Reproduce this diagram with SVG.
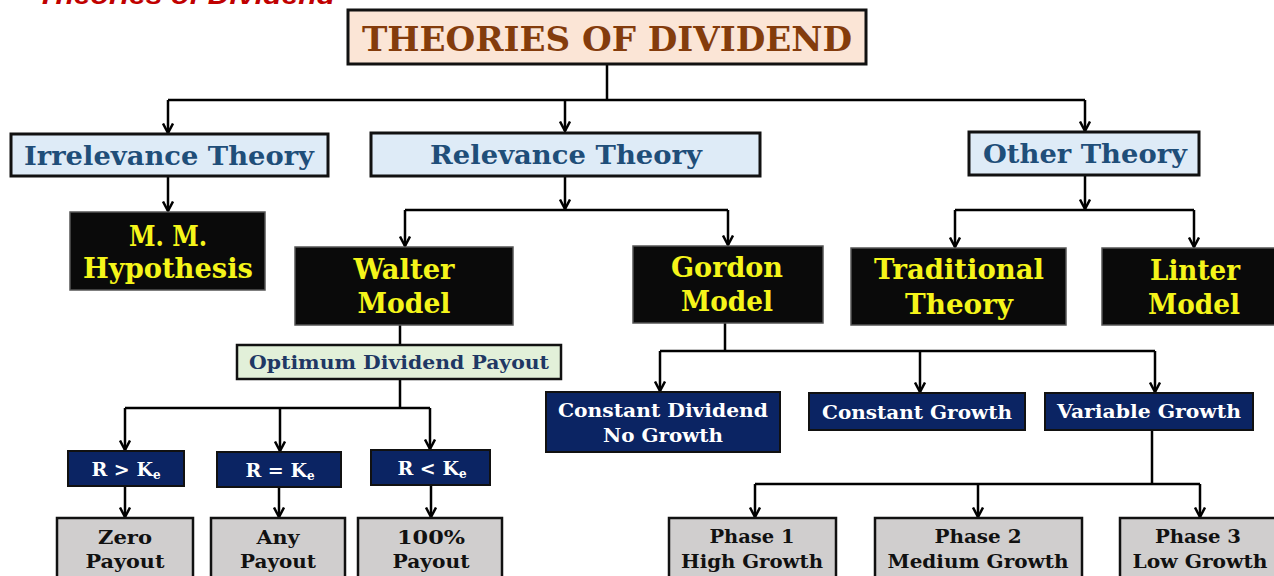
<svg xmlns="http://www.w3.org/2000/svg" width="1274" height="576" viewBox="0 0 1274 576">
<style>
.t{font-family:"DejaVu Serif","Liberation Serif",serif;font-weight:bold;text-anchor:middle;}
.lb rect{fill:#deebf7;stroke:#111;stroke-width:3;}
.lb text{fill:#1f4e79;font-size:26px;}
.bk rect{fill:#0a0a0a;stroke:#555;stroke-width:1.5;}
.bk text{fill:#f5f51a;font-size:27px;}
.nv rect{fill:#0b2463;stroke:#111;stroke-width:2;}
.nv text{fill:#fff;font-size:19px;}
.gy rect{fill:#d0cece;stroke:#111;stroke-width:2.5;}
.gy text{fill:#111;font-size:19px;}
.con path{fill:none;stroke:#000;stroke-width:2.5;}
</style>
<defs>
<marker id="arr" viewBox="0 0 12 12" refX="10.5" refY="6" markerWidth="12" markerHeight="12" markerUnits="userSpaceOnUse" orient="auto">
<path d="M1,1 L10.5,6 L1,11" fill="none" stroke="#000" stroke-width="2.5"/>
</marker>
</defs>
<rect width="1274" height="576" fill="#fff"/>
<text x="37" y="4" font-family="Liberation Sans, sans-serif" font-weight="bold" font-style="italic" font-size="25" fill="#c00000" textLength="298" lengthAdjust="spacingAndGlyphs">Theories of Dividend</text>

<g class="con">
<path d="M607,64 V100 M168,100 H1085"/>
<path d="M168,100 V133" marker-end="url(#arr)"/>
<path d="M565,100 V131" marker-end="url(#arr)"/>
<path d="M1085,100 V131" marker-end="url(#arr)"/>
<path d="M168,176 V211" marker-end="url(#arr)"/>
<path d="M565,176 V209" marker-end="url(#arr)"/>
<path d="M405,210 H728"/>
<path d="M405,210 V246" marker-end="url(#arr)"/>
<path d="M728,210 V245" marker-end="url(#arr)"/>
<path d="M1085,175 V209" marker-end="url(#arr)"/>
<path d="M955,210 H1194"/>
<path d="M955,210 V247" marker-end="url(#arr)"/>
<path d="M1194,210 V247" marker-end="url(#arr)"/>
<path d="M400,325 V345"/>
<path d="M400,379 V408 M125,408 H430"/>
<path d="M125,408 V450" marker-end="url(#arr)"/>
<path d="M280,408 V451" marker-end="url(#arr)"/>
<path d="M430,408 V449" marker-end="url(#arr)"/>
<path d="M125,486 V517" marker-end="url(#arr)"/>
<path d="M279,487 V517" marker-end="url(#arr)"/>
<path d="M431,485 V517" marker-end="url(#arr)"/>
<path d="M725,323 V351 M660,351 H1155"/>
<path d="M660,351 V391" marker-end="url(#arr)"/>
<path d="M920,351 V392" marker-end="url(#arr)"/>
<path d="M1155,351 V392" marker-end="url(#arr)"/>
<path d="M1152,430 V484 M755,484 H1200"/>
<path d="M755,484 V517" marker-end="url(#arr)"/>
<path d="M978,484 V517" marker-end="url(#arr)"/>
<path d="M1200,484 V517" marker-end="url(#arr)"/>
</g>

<g id="title">
<rect x="348" y="10" width="518" height="54" fill="#fbe5d6" stroke="#111" stroke-width="3"/>
<text class="t" x="607" y="51" font-size="34" fill="#843c0c" textLength="490" lengthAdjust="spacingAndGlyphs">THEORIES OF DIVIDEND</text>
</g>

<g id="irrelevance" class="lb">
<rect x="11" y="134" width="317" height="42"/>
<text class="t" x="169" y="165" textLength="290" lengthAdjust="spacingAndGlyphs">Irrelevance Theory</text>
</g>
<g id="relevance" class="lb">
<rect x="371" y="133" width="389" height="43"/>
<text class="t" x="566" y="164" textLength="272" lengthAdjust="spacingAndGlyphs">Relevance Theory</text>
</g>
<g id="other" class="lb">
<rect x="969" y="132" width="230" height="43"/>
<text class="t" x="1085" y="163" textLength="204" lengthAdjust="spacingAndGlyphs">Other Theory</text>
</g>

<g id="mm" class="bk">
<rect x="70" y="212" width="195" height="78"/>
<text class="t" x="168" y="246" textLength="78" lengthAdjust="spacingAndGlyphs">M. M.</text>
<text class="t" x="168" y="278" textLength="170" lengthAdjust="spacingAndGlyphs">Hypothesis</text>
</g>
<g id="walter" class="bk">
<rect x="295" y="247" width="218" height="78"/>
<text class="t" x="404" y="279" textLength="101" lengthAdjust="spacingAndGlyphs">Walter</text>
<text class="t" x="404" y="313" textLength="93" lengthAdjust="spacingAndGlyphs">Model</text>
</g>
<g id="gordon" class="bk">
<rect x="633" y="246" width="190" height="77"/>
<text class="t" x="727" y="277" textLength="112" lengthAdjust="spacingAndGlyphs">Gordon</text>
<text class="t" x="727" y="311" textLength="92" lengthAdjust="spacingAndGlyphs">Model</text>
</g>
<g id="traditional" class="bk">
<rect x="851" y="248" width="215" height="77"/>
<text class="t" x="959" y="279" textLength="170" lengthAdjust="spacingAndGlyphs">Traditional</text>
<text class="t" x="959" y="314" textLength="108" lengthAdjust="spacingAndGlyphs">Theory</text>
</g>
<g id="linter" class="bk">
<rect x="1102" y="248" width="180" height="77"/>
<text class="t" x="1195" y="280" textLength="90" lengthAdjust="spacingAndGlyphs">Linter</text>
<text class="t" x="1194" y="314" textLength="92" lengthAdjust="spacingAndGlyphs">Model</text>
</g>

<g id="optimum">
<rect x="237" y="345" width="324" height="34" fill="#e2f0d9" stroke="#111" stroke-width="2.5"/>
<text class="t" x="399" y="369" font-size="19" fill="#1f3864" textLength="300" lengthAdjust="spacingAndGlyphs">Optimum Dividend Payout</text>
</g>

<g id="rgt" class="nv">
<rect x="68" y="451" width="116" height="35"/>
<text class="t" x="126" y="476">R &gt; K<tspan font-size="12" dy="3">e</tspan></text>
</g>
<g id="req" class="nv">
<rect x="217" y="452" width="124" height="35"/>
<text class="t" x="280" y="477">R = K<tspan font-size="12" dy="3">e</tspan></text>
</g>
<g id="rlt" class="nv">
<rect x="371" y="450" width="119" height="35"/>
<text class="t" x="432" y="475">R &lt; K<tspan font-size="12" dy="3">e</tspan></text>
</g>

<g id="zero" class="gy">
<rect x="57" y="518" width="136" height="64"/>
<text class="t" x="125" y="544" textLength="54" lengthAdjust="spacingAndGlyphs">Zero</text>
<text class="t" x="125" y="568" textLength="79" lengthAdjust="spacingAndGlyphs">Payout</text>
</g>
<g id="any" class="gy">
<rect x="211" y="518" width="134" height="64"/>
<text class="t" x="278" y="544" textLength="43" lengthAdjust="spacingAndGlyphs">Any</text>
<text class="t" x="278" y="568" textLength="76" lengthAdjust="spacingAndGlyphs">Payout</text>
</g>
<g id="hundred" class="gy">
<rect x="358" y="518" width="144" height="64"/>
<text class="t" x="431" y="544" textLength="68" lengthAdjust="spacingAndGlyphs">100%</text>
<text class="t" x="431" y="568" textLength="77" lengthAdjust="spacingAndGlyphs">Payout</text>
</g>

<g id="constdiv" class="nv">
<rect x="546" y="392" width="234" height="60"/>
<text class="t" x="663" y="417" textLength="210" lengthAdjust="spacingAndGlyphs">Constant Dividend</text>
<text class="t" x="663" y="442" textLength="120" lengthAdjust="spacingAndGlyphs">No Growth</text>
</g>
<g id="constgrowth" class="nv">
<rect x="809" y="393" width="216" height="37"/>
<text class="t" x="917" y="419" textLength="190" lengthAdjust="spacingAndGlyphs">Constant Growth</text>
</g>
<g id="vargrowth" class="nv">
<rect x="1045" y="393" width="208" height="37"/>
<text class="t" x="1149" y="418" textLength="184" lengthAdjust="spacingAndGlyphs">Variable Growth</text>
</g>

<g id="phase1" class="gy">
<rect x="669" y="518" width="167" height="64"/>
<text class="t" x="752" y="543" textLength="85" lengthAdjust="spacingAndGlyphs">Phase 1</text>
<text class="t" x="752" y="568" textLength="142" lengthAdjust="spacingAndGlyphs">High Growth</text>
</g>
<g id="phase2" class="gy">
<rect x="875" y="518" width="207" height="64"/>
<text class="t" x="978" y="543" textLength="87" lengthAdjust="spacingAndGlyphs">Phase 2</text>
<text class="t" x="978" y="568" textLength="181" lengthAdjust="spacingAndGlyphs">Medium Growth</text>
</g>
<g id="phase3" class="gy">
<rect x="1120" y="518" width="160" height="64"/>
<text class="t" x="1198" y="543" textLength="86" lengthAdjust="spacingAndGlyphs">Phase 3</text>
<text class="t" x="1200" y="568" textLength="135" lengthAdjust="spacingAndGlyphs">Low Growth</text>
</g>
</svg>
